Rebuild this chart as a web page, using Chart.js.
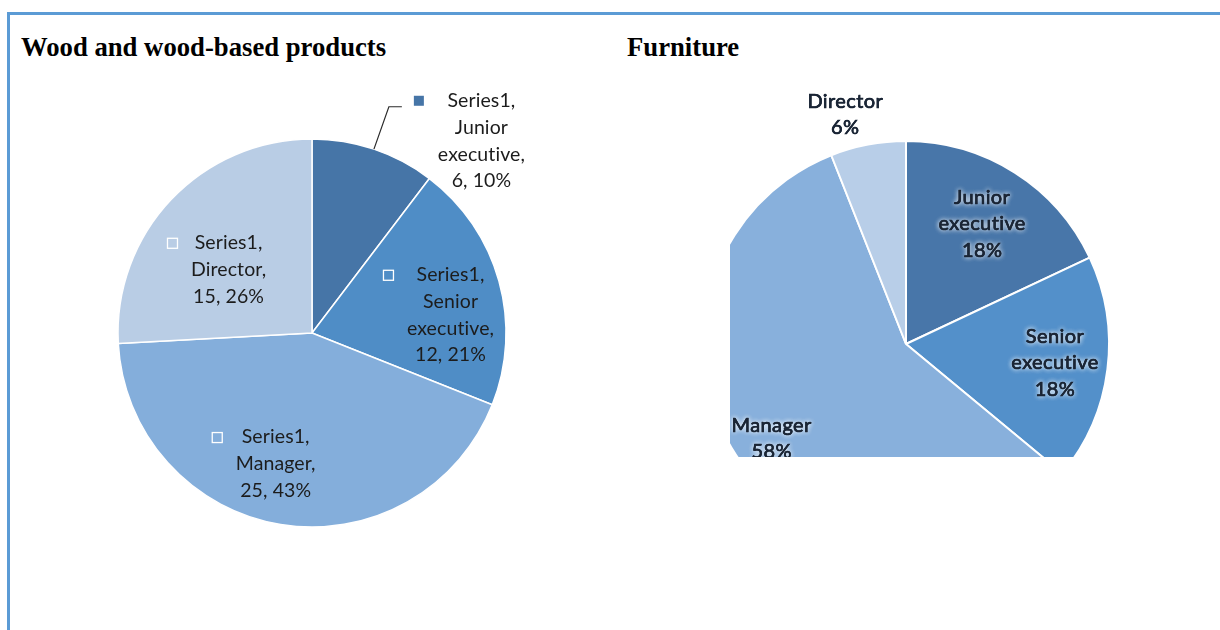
<!DOCTYPE html>
<html>
<head>
<meta charset="utf-8">
<script src="https://cdn.jsdelivr.net/npm/chart.js@4.4.1/dist/chart.umd.min.js"></script>
<style>
  html, body { margin: 0; padding: 0; background: #fff; }
  body { width: 1220px; height: 630px; position: relative; overflow: hidden; }
  .frame { position: absolute; left: 7px; top: 12px; width: 1300px; height: 700px;
           border-left: 3px solid #5b9bd5; border-top: 3px solid #5b9bd5; }
  .title { position: absolute; top: 34px; font: bold 26.7px "Liberation Serif", "Times New Roman", serif;
           color: #000; line-height: 1; white-space: nowrap; }
  #woodWrap { position: absolute; left: 22px; top: 73px; width: 580px; height: 520px; }
  #furnWrap { position: absolute; left: 730px; top: 85px; width: 380px; height: 372px; overflow: hidden; }
  #furnitureChart { position: absolute; left: -124px; top: -41px; }
</style>
</head>
<body>
<div class="frame"></div>
<div class="title" style="left:21px">Wood and wood-based products</div>
<div class="title" style="left:627px">Furniture</div>
<div id="woodWrap"><canvas id="woodChart" width="580" height="520"></canvas></div>
<div id="furnWrap"><canvas id="furnitureChart" width="600" height="600"></canvas></div>

<script>
// data
const seriesName = 'Series1';
const categories = ['Junior executive', 'Senior executive', 'Manager', 'Director'];
const woodValues = [6, 12, 25, 15];
const furniturePercents = [18, 18, 58, 6];

const woodColors = ['#4675a7', '#4f8dc6', '#84aedb', '#b9cde5'];
const furnitureColors = ['#4876a9', '#5390ca', '#88b0dc', '#b8cee8'];

const woodTotal = woodValues.reduce((a, b) => a + b, 0);

// draws the text labels for each slice, placed from the arc geometry
const sliceLabels = {
    id: 'sliceLabels',
    afterDatasetsDraw(chart, args, opts) {
        const ctx = chart.ctx;
        const meta = chart.getDatasetMeta(0);
        meta.data.forEach((arc, i) => {
            const {x, y, startAngle, endAngle, outerRadius} =
                arc.getProps(['x', 'y', 'startAngle', 'endAngle', 'outerRadius'], true);
            const place = opts.place[i];
            const mid = (startAngle + endAngle) / 2;
            const a = mid + place.shift * Math.PI / 180;
            const cx = x + Math.cos(a) * outerRadius * place.r;
            const cy = y + Math.sin(a) * outerRadius * place.r;
            const lines = opts.lines(i);
            const lh = opts.lineHeight;

            ctx.save();
            ctx.font = opts.font;
            // a little spacing stops the "ti" ligature
            if ('letterSpacing' in ctx) ctx.letterSpacing = opts.spacing || '0.2px';
            ctx.textAlign = 'center';
            ctx.textBaseline = 'middle';
            const top = cy - (lines.length - 1) * lh / 2;
            const maxW = Math.max(...lines.map(l => ctx.measureText(l).width));
            const keyLeft = cx - maxW / 2 - 14 - 10;

            if (opts.keys) {
                if (place.leader) {
                    ctx.fillStyle = chart.data.datasets[0].backgroundColor[i];
                    ctx.fillRect(keyLeft, top - 5, 10, 10);
                } else {
                    ctx.strokeStyle = '#fff';
                    ctx.lineWidth = 1.3;
                    ctx.strokeRect(keyLeft + 0.5, top - 4.5, 10, 10);
                }
            }

            if (place.leader) {
                ctx.beginPath();
                ctx.strokeStyle = '#2b2b2b';
                ctx.lineWidth = 1.2;
                ctx.moveTo(x + Math.cos(mid) * outerRadius, y + Math.sin(mid) * outerRadius);
                ctx.lineTo(keyLeft - 25, top + 6);
                ctx.lineTo(keyLeft - 12, top + 6);
                ctx.stroke();
            }

            ctx.fillStyle = opts.color;
            ctx.strokeStyle = opts.color;
            lines.forEach((l, k) => {
                const ly = top + k * lh;
                if (opts.glow) {
                    ctx.shadowColor = 'rgba(255,255,255,0.95)';
                    ctx.shadowBlur = 5;
                    ctx.fillText(l, cx, ly);
                    ctx.fillText(l, cx, ly);
                    ctx.shadowBlur = 0;
                    ctx.shadowColor = 'transparent';
                }
                ctx.fillText(l, cx, ly);
                if (opts.thicken) {
                    ctx.lineWidth = opts.thicken;
                    ctx.strokeText(l, cx, ly);
                }
            });
            ctx.restore();
        });
    }
};

const woodConfig = {
    type: 'pie',
    data: {
        labels: categories,
        datasets: [{
            data: woodValues,
            backgroundColor: woodColors,
            borderColor: '#fff',
            borderWidth: 1.5
        }]
    },
    options: {
        responsive: false,
        animation: false,
        radius: 194,
        layout: { padding: 0 },
        plugins: {
            legend: { display: false },
            tooltip: { enabled: false },
            sliceLabels: {
                font: '19.5px Lato, "Open Sans", sans-serif',
                spacing: '0.1px',
                color: '#1c1c1c',
                lineHeight: 26.8,
                keys: true,
                place: [
                    { shift: 22.8, r: 1.32, leader: true },
                    { shift: 8.1, r: 0.72 },
                    { shift: 6.2, r: 0.70 },
                    { shift: -6.2, r: 0.54 }
                ],
                lines: (i) => [seriesName + ','].concat(
                    categories[i].split(' ').map((w, k, arr) => k === arr.length - 1 ? w + ',' : w),
                    [woodValues[i] + ', ' + Math.round(woodValues[i] / woodTotal * 100) + '%'])
            }
        }
    },
    plugins: [sliceLabels]
};

const furnitureConfig = {
    type: 'pie',
    data: {
        labels: categories,
        datasets: [{
            data: furniturePercents,
            backgroundColor: furnitureColors,
            borderColor: '#fff',
            borderWidth: 2
        }]
    },
    options: {
        responsive: false,
        animation: false,
        radius: 203,
        layout: { padding: 0 },
        plugins: {
            legend: { display: false },
            tooltip: { enabled: false },
            sliceLabels: {
                font: '20px Lato, "Open Sans", sans-serif',
                spacing: '0.4px',
                color: '#1b2636',
                thicken: 0.6,
                lineHeight: 26.5,
                glow: true,
                place: [
                    { shift: 0, r: 0.70 },
                    { shift: 0, r: 0.74 },
                    { shift: 0.8, r: 0.81 },
                    { shift: -4, r: 1.17 }
                ],
                lines: (i) => categories[i].split(' ').concat([furniturePercents[i] + '%'])
            }
        }
    },
    plugins: [sliceLabels]
};

new Chart(document.getElementById('woodChart'), woodConfig);
new Chart(document.getElementById('furnitureChart'), furnitureConfig);
</script>
</body>
</html>
